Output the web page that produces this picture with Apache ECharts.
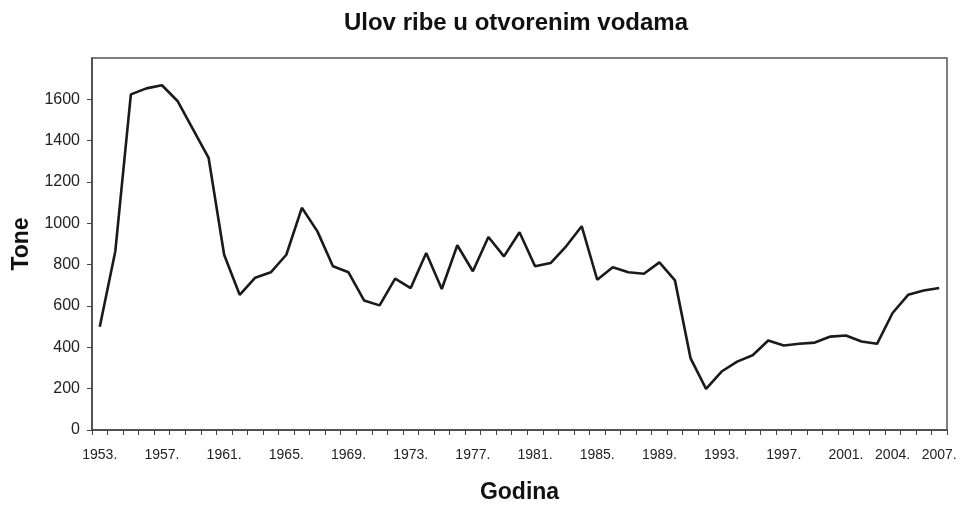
<!DOCTYPE html>
<html>
<head>
<meta charset="utf-8">
<script src="https://cdn.jsdelivr.net/npm/echarts@6/dist/echarts.min.js"></script>
<style>html,body{margin:0;padding:0;background:#fff;}#c{width:961px;height:506px;}</style>
</head>
<body>
<div id="c"></div>
<script>
const years = [1953,1954,1955,1956,1957,1958,1959,1960,1961,1962,1963,1964,1965,1966,1967,1968,1969,1970,1971,1972,1973,1974,1975,1976,1977,1978,1979,1980,1981,1982,1983,1984,1985,1986,1987,1988,1989,1990,1991,1992,1993,1994,1995,1996,1997,1998,1999,2000,2001,2002,2003,2004,2005,2006,2007];
const catch_t = [500,865,1624,1653,1668,1592,1455,1317,848,654,737,763,848,1075,961,792,763,627,603,732,687,856,682,894,768,934,840,957,792,808,889,986,727,787,763,756,811,724,348,199,283,331,362,433,409,417,423,452,457,428,417,566,654,675,687];
const shownLabels = [1953,1957,1961,1965,1969,1973,1977,1981,1985,1989,1993,1997,2001,2004,2007];
const yTicks = [0,200,400,600,800,1000,1200,1400,1600,1800];

const chart = echarts.init(document.getElementById('c'));
chart.setOption({
  backgroundColor: '#fff',
  animation: false,
  title: {
    text: 'Ulov ribe u otvorenim vodama',
    left: 511, top: 6, textAlign: 'center',
    textStyle: {fontFamily: 'Liberation Sans, Arial, sans-serif', fontWeight: 'bold', fontSize: 24, color: '#111'}
  },
  grid: {left: 92, right: 14, top: 58, bottom: 76, containLabel: false, outerBoundsMode: 'none',
    show: true, borderColor: '#555', borderWidth: 1.5, backgroundColor: '#fff'},
  xAxis: {
    type: 'category',
    data: years.map(String),
    boundaryGap: true,
    name: 'Godina', nameLocation: 'middle', nameGap: 51,
    nameTextStyle: {fontFamily: 'Liberation Sans, Arial, sans-serif', fontWeight: 'bold', fontSize: 23, color: '#111'},
    axisLine: {lineStyle: {color: '#444', width: 1.5}},
    axisTick: {show: true, interval: 0, length: 5, lineStyle: {color: '#444'}},
    axisLabel: {
      interval: function (i, v) { return shownLabels.indexOf(Number(v)) >= 0; },
      formatter: function (v) { return v + '.'; },
      fontFamily: 'Liberation Sans, Arial, sans-serif', fontSize: 14, color: '#222', margin: 18
    },
    splitLine: {show: false}
  },
  yAxis: {
    type: 'value', min: yTicks[0], max: yTicks[yTicks.length - 1], interval: 200,
    name: 'Tone', nameLocation: 'middle', nameGap: 58, nameRotate: 90,
    nameTextStyle: {fontFamily: 'Liberation Sans, Arial, sans-serif', fontWeight: 'bold', fontSize: 23, color: '#111'},
    axisLine: {show: true, lineStyle: {color: '#444', width: 1.5}},
    axisTick: {show: true, length: 5, lineStyle: {color: '#444'}},
    axisLabel: {showMaxLabel: false, formatter: function (v) { return String(v); },
      fontFamily: 'Liberation Sans, Arial, sans-serif', fontSize: 16, color: '#222', margin: 12},
    splitLine: {show: false}
  },
  series: [{
    type: 'line', data: catch_t, symbol: 'none',
    lineStyle: {color: '#1a1a1a', width: 2.6}
  }]
});
</script>
</body>
</html>
